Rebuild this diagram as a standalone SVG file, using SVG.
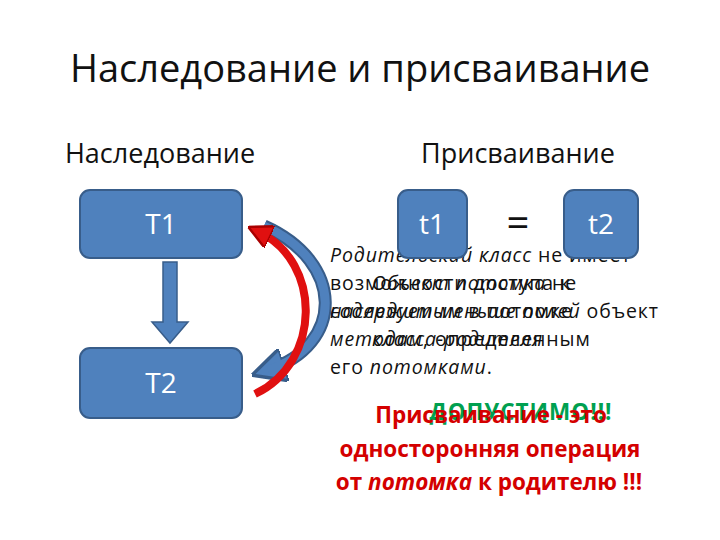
<svg xmlns="http://www.w3.org/2000/svg" width="720" height="540" viewBox="0 0 720 540">
<style>
text{font-family:"Open Sans","Noto Sans","DejaVu Sans",sans-serif}
.box{fill:#4f81bd;stroke:#385d8a;stroke-width:2}
.bl{fill:#fff;font-size:28px;text-anchor:middle}
.body{font-size:19.5px;fill:#111;letter-spacing:0.9px}
.red{font-size:22.5px;font-weight:bold;fill:#d40000;text-anchor:middle}
</style>
<defs>
<marker id="hb" viewBox="0 0 10 10" refX="5" refY="5" markerWidth="2.6" markerHeight="2.6" orient="auto"><path d="M0,0L10,5L0,10z" fill="#4f81bd" stroke="#385d8a"/></marker>
<marker id="hr" viewBox="0 0 10 10" refX="5" refY="5" markerWidth="3" markerHeight="3" orient="auto"><path d="M0,0L10,5L0,10z" fill="#e01010" stroke="#a00"/></marker>
</defs>
<rect width="720" height="540" fill="#fff"/>
<text x="360" y="82" font-size="38" text-anchor="middle" fill="#111">Наследование и присваивание</text>
<text x="160" y="163" font-size="27" text-anchor="middle" fill="#111">Наследование</text>
<text x="518" y="163" font-size="27" text-anchor="middle" fill="#111">Присваивание</text>

<g id="text-layer-a" class="body">
<text x="330" y="262"><tspan font-style="italic">Родительский класс</tspan> не имеет</text>
<text x="330" y="290">возможности доступа к</text>
<text x="330" y="318"><tspan font-style="italic">наследуемым</tspan> в потомке</text>
<text x="330" y="346"><tspan font-style="italic">методам</tspan>, определенным</text>
<text x="330" y="374">его <tspan font-style="italic">потомками</tspan>.</text>
</g>
<g id="text-layer-b" class="body">
<text x="372" y="290"><tspan font-style="italic">Объект потомка</tspan> не</text>
<text x="330" y="318"><tspan font-style="italic">содержит меньше полей</tspan> объект</text>
<text x="372" y="346"><tspan font-style="italic">класса-родителя</tspan></text>
</g>

<g id="connectors">
<path d="M163,262 h14 v60 h11 l-18,21 l-18,-21 h11 z" fill="#4f81bd" stroke="#385d8a" stroke-width="1.5"/>
<path d="M264,226 C345,262 345,345 268,370" fill="none" stroke="#385d8a" stroke-width="13" marker-end="url(#hb)"/>
<path d="M264,226 C345,262 345,345 268,370" fill="none" stroke="#4f81bd" stroke-width="9"/>
<path d="M255,394 C322,362 322,262 259,232" fill="none" stroke="#e01010" stroke-width="8" marker-end="url(#hr)"/>
</g>

<g id="T1"><rect class="box" x="80" y="190" width="162" height="68" rx="10"/><text class="bl" x="161" y="234">T1</text></g>
<g id="T2"><rect class="box" x="80" y="348" width="162" height="70" rx="10"/><text class="bl" x="161" y="393">T2</text></g>
<g id="t1"><rect class="box" x="398" y="190" width="69" height="68" rx="10"/><text class="bl" x="432" y="234">t1</text></g>
<text x="518" y="237" font-size="40" text-anchor="middle" fill="#111">=</text>
<g id="t2"><rect class="box" x="564" y="190" width="74" height="68" rx="10"/><text class="bl" x="601" y="234">t2</text></g>

<g id="conclusion">
<text x="521" y="420" font-size="22.5" font-weight="bold" fill="#00a050" text-anchor="middle" letter-spacing="1">ДОПУСТИМО!!!</text>
<text class="red" x="491" y="423">Присваивание - это</text>
<text class="red" x="490" y="457">односторонняя операция</text>
<text class="red" x="489" y="490">от <tspan font-style="italic">потомка</tspan> к родителю !!!</text>
</g>
</svg>
